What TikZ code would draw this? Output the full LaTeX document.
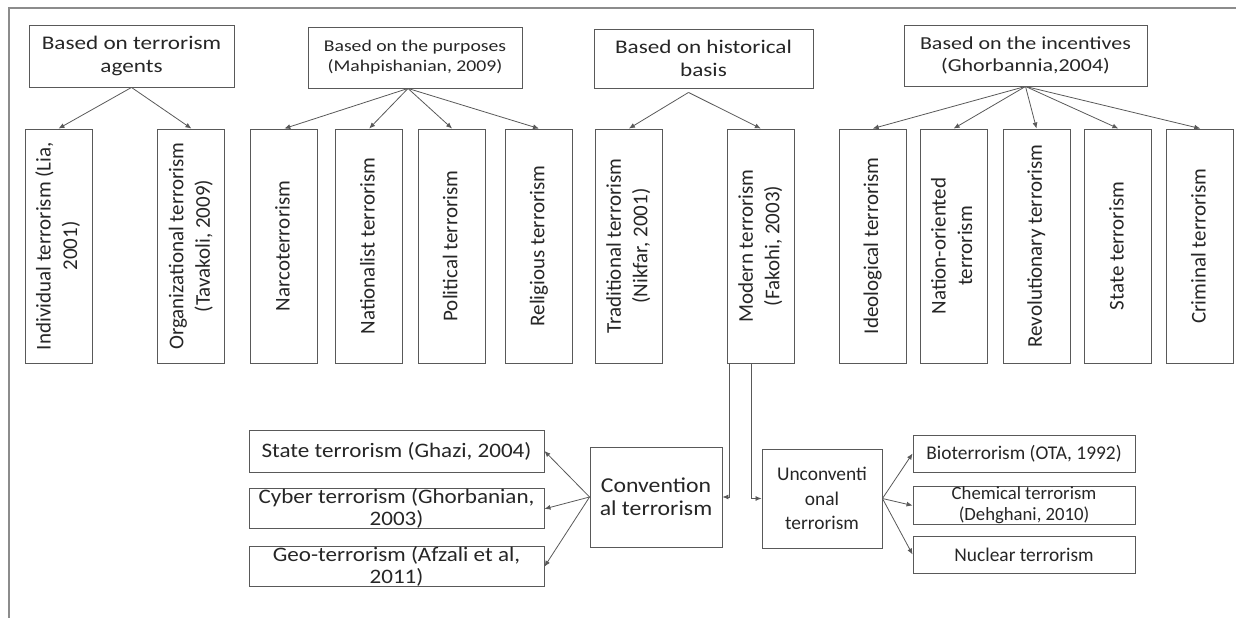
\documentclass[tikz,border=0pt]{standalone}
\usepackage{fontspec}
\setmainfont{Carlito}
\newfontfamily\widefont{Carlito}[FakeStretch=1.2]
\newfontfamily\midfont{Carlito}[FakeStretch=1.12]
\usetikzlibrary{positioning,arrows.meta}
\definecolor{boxline}{HTML}{595959}
\definecolor{ink}{HTML}{262626}
\definecolor{framegray}{HTML}{8C8C8C}
\newcommand{\vlabel}[1]{\rotatebox{90}{\begin{tabular}{@{}c@{}}#1\end{tabular}}}

\tikzset{
  box/.style={draw=boxline, line width=0.9pt, inner sep=0pt, text=ink, align=center},
  headbox/.style={box, font=\widefont\fontsize{19.3}{23}\selectfont},
  typebox/.style={box, minimum width=67pt, minimum height=234pt, font=\fontsize{21}{26.5}\selectfont},
  subbox/.style={box, font=\midfont\fontsize{20.6}{22}\selectfont},
  smallbox/.style={box, font=\fontsize{19.4}{21}\selectfont},
  link/.style={draw=boxline, line width=0.8pt, -{Latex[length=6pt,width=5pt]}}
}

\begin{document}
\begin{tikzpicture}[x=1pt,y=1pt]
  \useasboundingbox (0,0) rectangle (1236,-618);
  \draw[framegray, line width=1.1pt] (1236,-8) -- (9,-8) -- (9,-618);

  % Define nodes
  \node[headbox, minimum width=205pt, minimum height=62pt] (agents) at (131.5,-56) {Based on terrorism\\agents};
  \node[headbox, minimum width=214pt, minimum height=61pt, font=\widefont\fontsize{16.4}{20}\selectfont] (purposes) at (415,-57.5) {Based on the purposes\\(Mahpishanian, 2009)};
  \node[headbox, minimum width=219pt, minimum height=59pt] (history) at (703.5,-58.5) {Based on historical\\basis};
  \node[headbox, minimum width=243pt, minimum height=61pt, font=\widefont\fontsize{18.3}{22}\selectfont] (incentives) at (1025.5,-55.5) {Based on the incentives\\(Ghorbannia,2004)};

  \node[typebox] (individual) at (58.5,-246) {\vlabel{Individual terrorism (Lia,\\2001)}};
  \node[typebox, right=65pt of individual] (organized) {\vlabel{Organizational terrorism\\(Tavakoli, 2009)}};
  \node[typebox, right=25pt of organized]  (narco)       {\vlabel{Narcoterrorism}};
  \node[typebox, right=17pt of narco]      (nationalist) {\vlabel{Nationalist terrorism}};
  \node[typebox, right=15pt of nationalist] (political)  {\vlabel{Political terrorism}};
  \node[typebox, right=19pt of political]  (religious)   {\vlabel{Religious terrorism}};
  \node[typebox, right=22pt of religious]  (traditional) {\vlabel{Traditional terrorism\\(Nikfar, 2001)}};
  \node[typebox, right=64pt of traditional] (modern)     {\vlabel{Modern terrorism\\(Fakohi, 2003)}};
  \node[typebox, right=44pt of modern]     (ideological) {\vlabel{Ideological terrorism}};
  \node[typebox, right=13pt of ideological] (nation)     {\vlabel{Nation-oriented\\terrorism}};
  \node[typebox, right=15pt of nation]     (revolution)  {\vlabel{Revolutionary terrorism}};
  \node[typebox, right=14pt of revolution] (statetype)   {\vlabel{State terrorism}};
  \node[typebox, right=14pt of statetype]  (criminal)    {\vlabel{Criminal terrorism}};

  \node[subbox, minimum width=132pt, minimum height=100pt, font=\midfont\fontsize{21.2}{23}\selectfont] (conv) at (656,-497) {Convention\\al terrorism};
  \node[smallbox, minimum width=120pt, minimum height=99pt, font=\fontsize{19.4}{24.5}\selectfont] (unconv) at (822,-498.5) {Unconventi\\onal\\terrorism};

  \node[subbox, minimum width=295pt, minimum height=42pt] (state) at (396.5,-451) {State terrorism (Ghazi, 2004)};
  \node[subbox, minimum width=295pt, minimum height=34pt, below=16pt of state] (cyber) {Cyber terrorism (Ghorbanian,\\2003)};
  \node[subbox, minimum width=295pt, minimum height=34pt, below=17pt of cyber] (geo) {Geo-terrorism (Afzali et al,\\2011)};

  \node[smallbox, minimum width=222pt, minimum height=37pt] (bio) at (1024,-453.5) {Bioterrorism (OTA, 1992)};
  \node[smallbox, minimum width=222pt, minimum height=36pt, below=14pt of bio, font=\fontsize{18.7}{21}\selectfont] (chemical) {Chemical terrorism\\(Dehghani, 2010)};
  \node[smallbox, minimum width=222pt, minimum height=37pt, below=11pt of chemical] (nuclear) {Nuclear terrorism};

  % Connect nodes
  \draw[link] (agents.south) -- (individual.north);
  \draw[link] (agents.south) -- (organized.north);
  \draw[link] ([xshift=-7pt]purposes.south) -- (narco.north);
  \draw[link] ([xshift=-7pt]purposes.south) -- (nationalist.north);
  \draw[link] ([xshift=-7pt]purposes.south) -- (political.north);
  \draw[link] ([xshift=-7pt]purposes.south) -- (religious.north);
  \draw[link] ([xshift=-15pt,yshift=-4pt]history.south) -- (traditional.north);
  \draw[link] ([xshift=-15pt,yshift=-4pt]history.south) -- (modern.north);
  \draw[link] (incentives.south) -- (ideological.north);
  \draw[link] (incentives.south) -- (nation.north);
  \draw[link] (incentives.south) -- (revolution.north);
  \draw[link] (incentives.south) -- (statetype.north);
  \draw[link] (incentives.south) -- (criminal.north);

  \draw[link] ([xshift=3pt]modern.south west) |- (conv.east);
  \draw[link] ([xshift=25pt]modern.south west) |- (unconv.west);

  \draw[link] (conv.west) -- (state.east);
  \draw[link] (conv.west) -- (cyber.east);
  \draw[link] (conv.west) -- (geo.east);
  \draw[link] (unconv.east) -- (bio.west);
  \draw[link] (unconv.east) -- (chemical.west);
  \draw[link] (unconv.east) -- (nuclear.west);
\end{tikzpicture}
\end{document}
